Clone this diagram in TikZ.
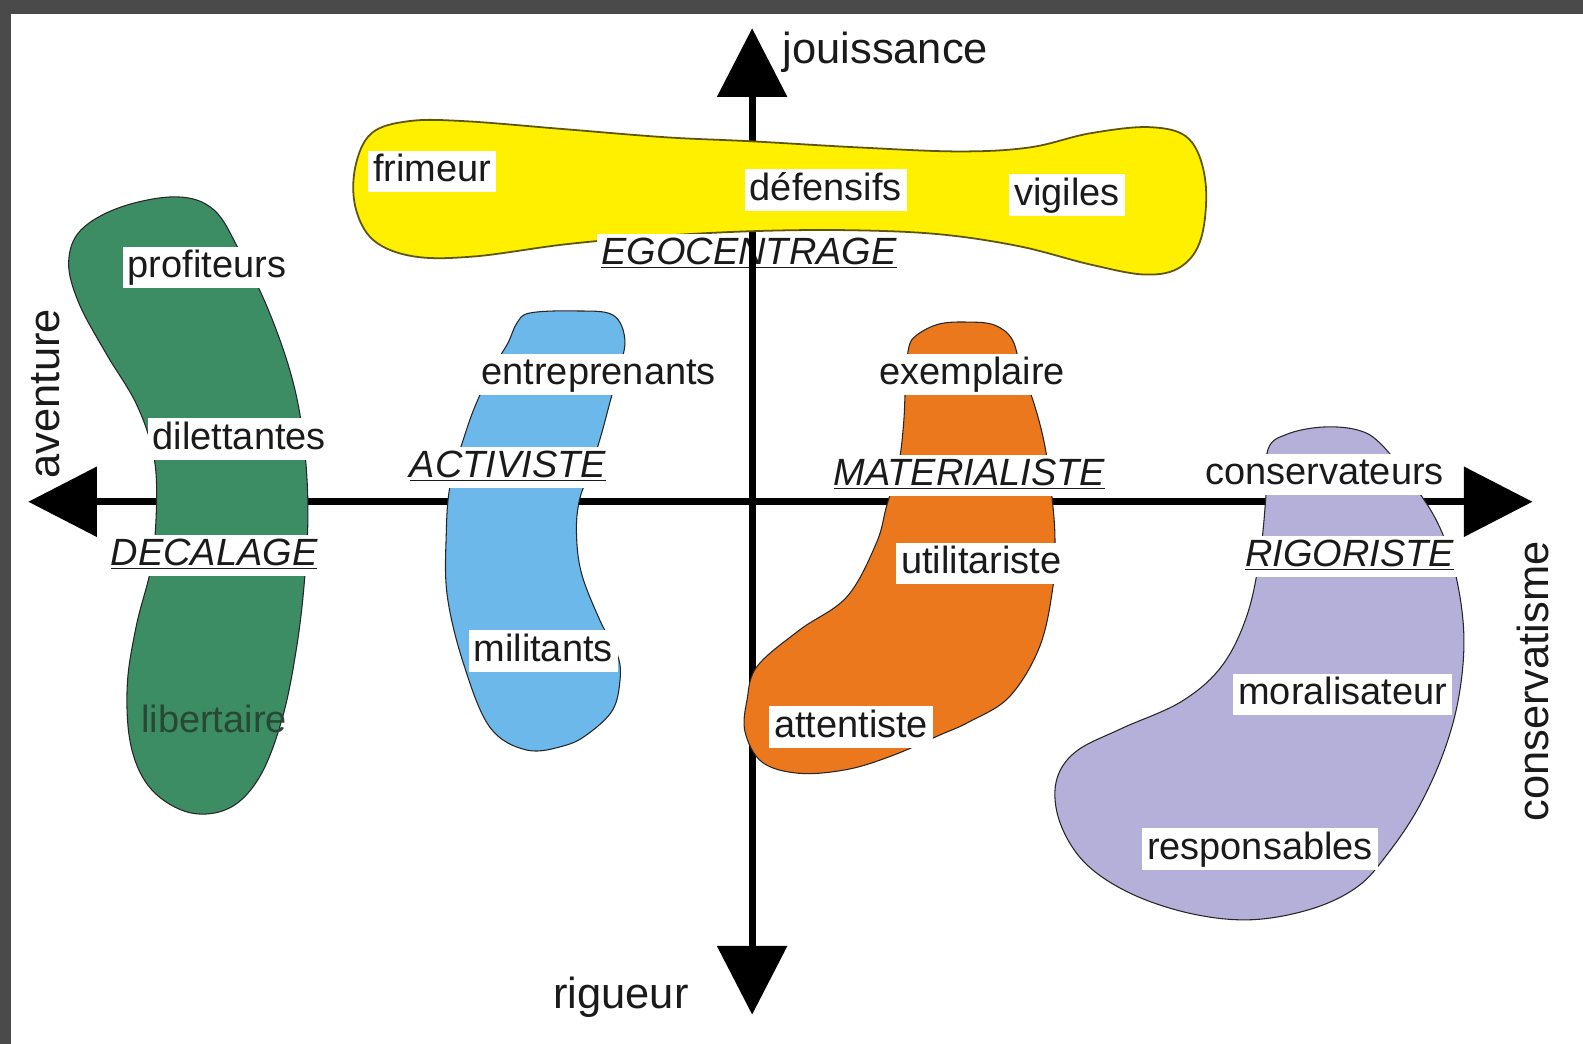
\documentclass[tikz,border=0pt]{standalone}
\usepackage{fontspec}
\setmainfont{Liberation Sans}
\usetikzlibrary{arrows.meta}
\definecolor{frame}{RGB}{74,74,74}
\definecolor{ink}{RGB}{26,26,26}
\definecolor{egoyellow}{RGB}{255,240,0}
\definecolor{egoline}{RGB}{95,85,10}
\definecolor{decgreen}{RGB}{60,140,100}
\definecolor{libgreen}{RGB}{40,72,52}
\definecolor{actblue}{RGB}{108,184,234}
\definecolor{matorange}{RGB}{236,120,30}
\definecolor{rigpurple}{RGB}{180,176,218}
\tikzstyle{every node}+=[inner xsep=2.8pt,inner ysep=1.2pt,text=ink]
\tikzstyle{blob}=[draw=black!85,line width=0.6pt]
\tikzstyle{word}=[fill=white,font=\fontsize{21.4}{24}\selectfont,text height=16.3pt,text depth=4.7pt]
\tikzstyle{kind}=[word,font=\fontsize{21.4}{24}\selectfont\itshape]
\tikzstyle{pole}=[font=\fontsize{24.5}{28}\selectfont]
\tikzstyle{axis}=[line width=4pt,{Triangle[length=1.36cm,width=1.36cm]}-{Triangle[length=1.36cm,width=1.36cm]}]

\begin{document}
\begin{tikzpicture}[x=0.02cm,y=-0.02cm]
\useasboundingbox (0,0) rectangle (1568,1034);
\fill[frame] (0,0) rectangle (1568,1034);
\fill[white] (11,14) rectangle (1568,1034);

\coordinate (N) at (745,28);
\coordinate (S) at (745,1005);
\coordinate (W) at (28,497);
\coordinate (E) at (1518,497);
\draw[axis] (S) -- (N);
\draw[axis] (W) -- (E);

\draw[blob,draw=egoline,line width=1pt,fill=egoyellow] plot[smooth cycle,tension=0.6] coordinates {
 (352,165) (368,132) (405,120) (460,120) (560,128) (660,136) (745,140) (850,146) (950,150) (1020,146)
 (1080,132) (1140,126) (1178,138) (1194,180) (1190,235) (1170,264) (1135,272) (1080,262) (1010,244)
 (930,232) (840,228) (745,229) (650,234) (560,242) (470,254) (410,254) (370,238) (352,205)};
\draw[blob,fill=decgreen] plot[smooth cycle,tension=0.6] coordinates {
 (175,195) (120,205) (80,228) (68,260) (78,300) (105,350) (135,400) (152,450) (155,500) (150,560)
 (135,620) (126,680) (130,740) (150,782) (188,805) (228,800) (258,768) (280,710) (294,640) (302,570)
 (305,500) (300,430) (288,370) (265,305) (238,250) (212,208)};
\draw[blob,fill=actblue] plot[smooth cycle,tension=0.6] coordinates {
 (503,340) (512,320) (525,310) (570,308) (607,312) (619,337) (612,370) (604,399) (596,429) (585,465)
 (574,495) (571,528) (576,568) (594,614) (612,650) (614,675) (607,703) (585,725) (561,738) (522,743)
 (485,720) (459,657) (443,590) (442,530) (446,480) (461,429) (472,399) (488,365)};
\draw[blob,fill=matorange] plot[smooth cycle,tension=0.6] coordinates {
 (900,345) (908,332) (930,321) (958,319) (985,322) (1003,337) (1012,370) (1023,396) (1035,442)
 (1043,502) (1045,540) (1043,581) (1030,640) (1000,690) (960,715) (931,728) (885,748) (840,762)
 (792,766) (755,755) (738,725) (740,693) (750,660) (792,624) (839,591) (868,538) (878,502) (890,460)
 (895,420) (897,380)};
\draw[blob,fill=rigpurple] plot[smooth cycle,tension=0.6] coordinates {
 (1256,445) (1275,430) (1310,423) (1345,426) (1368,440) (1400,480) (1425,520) (1442,570) (1450,630)
 (1445,690) (1430,745) (1405,800) (1375,845) (1345,878) (1300,900) (1240,911) (1180,905) (1120,885)
 (1075,855) (1050,815) (1046,775) (1065,745) (1110,722) (1170,695) (1210,660) (1235,610) (1248,550)
 (1254,490)};

\node[word] (frimeur) at (428,170) {frimeur};
\node[word] (defensifs) at (818,188) {défensifs};
\node[word] (vigiles) at (1057,193) {vigiles};
\node[kind] (ego) at (742,252) {\underline{EGOCENTRAGE}};
\draw[line width=4pt] (ego.north -| N) -- (ego.south -| N);

\node[word] (profiteurs) at (205,265) {profiteurs};
\node[word] (dilettantes) at (237,435) {dilettantes};
\node[kind] (decalage) at (212,550) {\underline{DECALAGE}};
\node[word,fill=none,text=libgreen] (libertaire) at (212,715) {libertaire};

\node[word] (entreprenants) at (593,371) {entreprenants};
\node[kind] (activiste) at (503,463) {\underline{ACTIVISTE}};
\node[word] (militants) at (538,645) {militants};

\node[word] (exemplaire) at (963,371) {exemplaire};
\node[kind] (materialiste) at (960,471) {\underline{MATERIALISTE}};
\node[word] (utilitariste) at (972,558) {utilitariste};
\node[word] (attentiste) at (843,720) {attentiste};

\node[word] (conservateurs) at (1312,470) {conservateurs};
\node[kind] (rigoriste) at (1337,551) {\underline{RIGORISTE}};
\node[word] (moralisateur) at (1330,688) {moralisateur};
\node[word] (responsables) at (1248,841) {responsables};

\node[pole,anchor=west] (jouissance) at (770,52) {jouissance};
\node[pole] (rigueur) at (615,988) {rigueur};
\node[pole,rotate=90] (aventure) at (45,390) {aventure};
\node[pole,rotate=90] (conservatisme) at (1518,675) {conservatisme};
\end{tikzpicture}
\end{document}
